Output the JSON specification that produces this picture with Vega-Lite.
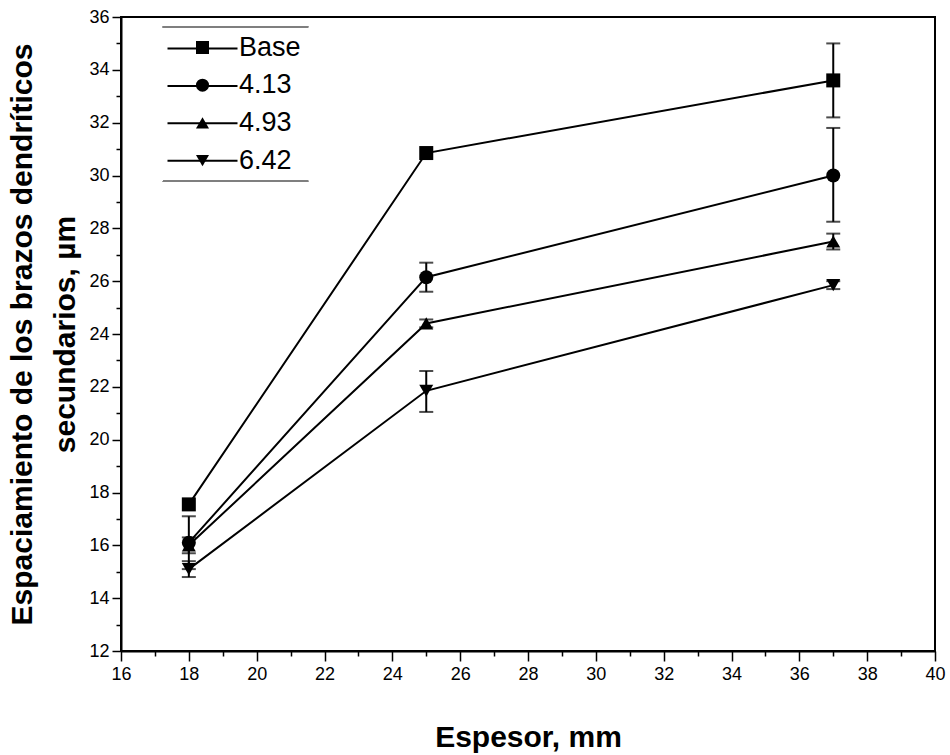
{
  "$schema": "https://vega.github.io/schema/vega-lite/v6.json",
  "width": 814,
  "height": 634,
  "autosize": {"type": "none"},
  "padding": {"left": 121, "top": 17, "right": 15, "bottom": 104},
  "background": "white",
  "config": {
    "font": "Liberation Sans",
    "view": {"stroke": "black", "strokeWidth": 2},
    "axis": {
      "domainColor": "black",
      "domainWidth": 2,
      "tickColor": "black",
      "tickWidth": 1.5,
      "labelColor": "black",
      "labelFont": "Liberation Sans",
      "labelFontSize": 18,
      "titleColor": "black",
      "titleFont": "Liberation Sans",
      "titleFontSize": 30,
      "titleFontWeight": "bold",
      "grid": false
    },
    "legend": {"strokeDash": [145.5, 153.1], "strokeWidth": 1.5}
  },
  "data": {
    "values": [
      {"series": "Base", "x": 18, "y": 17.55, "lo": null, "hi": null},
      {"series": "Base", "x": 25, "y": 30.85, "lo": null, "hi": null},
      {"series": "Base", "x": 37, "y": 33.6, "lo": 32.2, "hi": 35.0},
      {"series": "4.13", "x": 18, "y": 16.1, "lo": 15.1, "hi": 17.1},
      {"series": "4.13", "x": 25, "y": 26.15, "lo": 25.6, "hi": 26.7},
      {"series": "4.13", "x": 37, "y": 30.0, "lo": 28.25, "hi": 31.8},
      {"series": "4.93", "x": 18, "y": 16.0, "lo": 15.7, "hi": 16.3},
      {"series": "4.93", "x": 25, "y": 24.4, "lo": 24.25, "hi": 24.55},
      {"series": "4.93", "x": 37, "y": 27.5, "lo": 27.2, "hi": 27.8},
      {"series": "6.42", "x": 18, "y": 15.1, "lo": 14.8, "hi": 15.4},
      {"series": "6.42", "x": 25, "y": 21.85, "lo": 21.05, "hi": 22.6},
      {"series": "6.42", "x": 37, "y": 25.85, "lo": 25.7, "hi": 26.0}
    ]
  },
  "encoding": {
    "x": {
      "field": "x",
      "type": "quantitative",
      "scale": {"domain": [16, 40], "nice": false, "zero": false},
      "axis": {
        "title": "Espesor, mm",
        "values": [16,17,18,19,20,21,22,23,24,25,26,27,28,29,30,31,32,33,34,35,36,37,38,39,40],
        "labelExpr": "datum.value % 2 === 0 ? datum.label : ''",
        "tickSize": {"condition": {"test": "datum.value % 2 === 0", "value": 10}, "value": 5},
        "labelPadding": 4,
        "titlePadding": 39,
        "labelFlush": false
      }
    },
    "y": {
      "field": "y",
      "type": "quantitative",
      "scale": {"domain": [12, 36], "nice": false, "zero": false},
      "axis": {
        "title": ["Espaciamiento de los brazos dendríticos", "secundarios, µm"],
        "titleLineHeight": 43,
        "values": [12,13,14,15,16,17,18,19,20,21,22,23,24,25,26,27,28,29,30,31,32,33,34,35,36],
        "labelExpr": "datum.value % 2 === 0 ? datum.label : ''",
        "tickSize": {"condition": {"test": "datum.value % 2 === 0", "value": 9}, "value": 5},
        "labelPadding": 3,
        "titlePadding": 8,
        "labelFlush": false
      }
    }
  },
  "layer": [
    {
      "mark": {"type": "line", "strokeWidth": 2},
      "encoding": {
        "stroke": {
          "field": "series",
          "type": "nominal",
          "scale": {"domain": ["Base", "4.13", "4.93", "6.42"], "range": ["black", "black", "black", "black"]},
          "legend": {
            "title": null,
            "orient": "none",
            "legendX": 68,
            "legendY": 18,
            "padding": 0,
            "symbolType": "M-5,0L5,0M0,-1.96L0,-1.96M0,1.96L0,1.96",
            "symbolSize": 196,
            "symbolOffset": 0,
            "symbolStrokeWidth": 2,
            "labelExpr": "''",
            "labelOffset": 0,
            "labelFont": "Liberation Sans",
            "labelFontSize": 27,
            "labelColor": "black",
            "rowPadding": 0.4
          }
        }
      }
    },
    {
      "transform": [{"filter": "datum.lo != null"}],
      "mark": {"type": "errorbar", "color": "black", "thickness": 2, "ticks": {"size": 14}},
      "encoding": {
        "y": {"field": "lo", "type": "quantitative"},
        "y2": {"field": "hi"}
      }
    },
    {
      "mark": {"type": "point", "filled": true, "color": "black", "opacity": 1, "size": 196},
      "encoding": {
        "shape": {
          "field": "series",
          "type": "nominal",
          "scale": {"domain": ["Base", "4.13", "4.93", "6.42"], "range": ["square", "circle", "triangle-up", "triangle-down"]},
          "legend": null
        }
      }
    },
    {
      "mark": {"type": "point", "filled": true, "color": "black", "opacity": 0, "size": 196},
      "encoding": {
        "shape": {
          "field": "series",
          "type": "nominal",
          "scale": {"domain": ["Base", "4.13", "4.93", "6.42"], "range": ["square", "circle", "triangle-up", "triangle-down"]},
          "legend": {
            "title": null,
            "orient": "none",
            "legendX": 42,
            "legendY": 10,
            "padding": 7,
            "symbolSize": 170,
            "symbolOffset": 19,
            "labelOffset": 23,
            "labelFont": "Liberation Sans",
            "labelFontSize": 27,
            "labelColor": "black",
            "rowPadding": 9.7,
            "symbolOpacity": 1,
            "symbolFillColor": "black",
            "strokeColor": "#555555",
            "encode": {
              "symbols": {"update": {"opacity": {"value": 1}, "fill": {"value": "black"}}}
            }
          }
        }
      }
    }
  ],
  "resolve": {"scale": {"shape": "independent"}}
}
